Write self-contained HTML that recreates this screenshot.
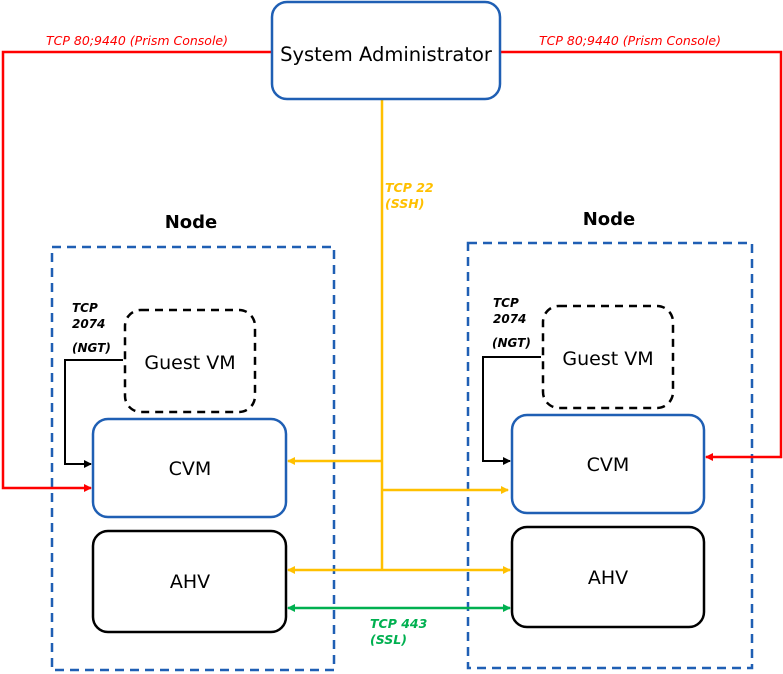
<!DOCTYPE html>
<html><head><style>html,body{margin:0;padding:0;background:#fff}svg{display:block}</style></head>
<body>
<svg width="783" height="674" viewBox="0 0 783 674" xmlns="http://www.w3.org/2000/svg" font-family="'DejaVu Sans','Liberation Sans',sans-serif">
<defs>
<marker id="r" markerWidth="8" markerHeight="8" refX="7" refY="4" orient="auto" markerUnits="userSpaceOnUse"><path d="M0,0 L8,4 L0,8 z" fill="#f00"/></marker>
<marker id="y" markerWidth="8" markerHeight="8" refX="7" refY="4" orient="auto-start-reverse" markerUnits="userSpaceOnUse"><path d="M0,0 L8,4 L0,8 z" fill="#ffc000"/></marker>
<marker id="g" markerWidth="8" markerHeight="8" refX="7" refY="4" orient="auto-start-reverse" markerUnits="userSpaceOnUse"><path d="M0,0 L8,4 L0,8 z" fill="#00b050"/></marker>
<marker id="k" markerWidth="8" markerHeight="8" refX="7" refY="4" orient="auto" markerUnits="userSpaceOnUse"><path d="M0,0 L8,4 L0,8 z" fill="#000"/></marker>
</defs>
<rect x="52" y="247" width="282" height="423" fill="none" stroke="#1f5fb4" stroke-width="2.5" stroke-dasharray="9,6"/>
<rect x="468" y="243" width="284" height="425" fill="none" stroke="#1f5fb4" stroke-width="2.5" stroke-dasharray="9,6"/>
<text x="191" y="228" font-size="18" font-weight="bold" text-anchor="middle">Node</text>
<text x="609" y="225" font-size="18" font-weight="bold" text-anchor="middle">Node</text>
<polyline points="272,52 3,52 3,488 91,488" fill="none" stroke="#f00" stroke-width="2.5" marker-end="url(#r)"/>
<polyline points="500,52 781,52 781,457 706,457" fill="none" stroke="#f00" stroke-width="2.5" marker-end="url(#r)"/>
<text x="137" y="45" font-size="12.5" font-style="italic" fill="#f00" text-anchor="middle">TCP 80;9440 (Prism Console)</text>
<text x="630" y="45" font-size="12.5" font-style="italic" fill="#f00" text-anchor="middle">TCP 80;9440 (Prism Console)</text>
<line x1="382" y1="99" x2="382" y2="570" stroke="#ffc000" stroke-width="2.5"/>
<line x1="382" y1="461" x2="288" y2="461" stroke="#ffc000" stroke-width="2.5" marker-end="url(#y)"/>
<line x1="382" y1="490" x2="508" y2="490" stroke="#ffc000" stroke-width="2.5" marker-end="url(#y)"/>
<line x1="288" y1="570" x2="510" y2="570" stroke="#ffc000" stroke-width="2.5" marker-start="url(#y)" marker-end="url(#y)"/>
<text x="385" y="192" font-size="12.5" font-weight="bold" font-style="italic" fill="#ffc000">TCP 22</text>
<text x="385" y="208" font-size="12.5" font-weight="bold" font-style="italic" fill="#ffc000">(SSH)</text>
<line x1="288" y1="608" x2="510" y2="608" stroke="#00b050" stroke-width="2.5" marker-start="url(#g)" marker-end="url(#g)"/>
<text x="370" y="628" font-size="12.5" font-weight="bold" font-style="italic" fill="#00b050">TCP 443</text>
<text x="370" y="644" font-size="12.5" font-weight="bold" font-style="italic" fill="#00b050">(SSL)</text>
<polyline points="123,360 65,360 65,464 91,464" fill="none" stroke="#000" stroke-width="2" marker-end="url(#k)"/>
<polyline points="541,357 483,357 483,461 510,461" fill="none" stroke="#000" stroke-width="2" marker-end="url(#k)"/>
<g font-size="12" font-weight="bold" font-style="italic">
<text x="72" y="312">TCP</text><text x="72" y="328">2074</text><text x="72" y="352">(NGT)</text>
<text x="493" y="307">TCP</text><text x="493" y="323">2074</text><text x="492" y="347">(NGT)</text>
</g>
<rect x="272" y="2" width="228" height="97" rx="15" fill="#fff" stroke="#1f5fb4" stroke-width="2.5"/>
<text x="386" y="61" font-size="19.5" text-anchor="middle">System Administrator</text>
<rect x="125" y="310" width="130" height="102" rx="16" fill="#fff" stroke="#000" stroke-width="2.5" stroke-dasharray="8,6"/>
<text x="190" y="369" font-size="19" text-anchor="middle">Guest VM</text>
<rect x="543" y="306" width="130" height="102" rx="16" fill="#fff" stroke="#000" stroke-width="2.5" stroke-dasharray="8,6"/>
<text x="608" y="365" font-size="19" text-anchor="middle">Guest VM</text>
<rect x="93" y="419" width="193" height="98" rx="15" fill="#fff" stroke="#1f5fb4" stroke-width="2.5"/>
<text x="190" y="475" font-size="19" text-anchor="middle">CVM</text>
<rect x="512" y="415" width="192" height="98" rx="15" fill="#fff" stroke="#1f5fb4" stroke-width="2.5"/>
<text x="608" y="471" font-size="19" text-anchor="middle">CVM</text>
<rect x="93" y="531" width="193" height="101" rx="15" fill="#fff" stroke="#000" stroke-width="2.5"/>
<text x="190" y="588" font-size="19" text-anchor="middle">AHV</text>
<rect x="512" y="527" width="192" height="100" rx="15" fill="#fff" stroke="#000" stroke-width="2.5"/>
<text x="608" y="584" font-size="19" text-anchor="middle">AHV</text>
</svg>
</body></html>
